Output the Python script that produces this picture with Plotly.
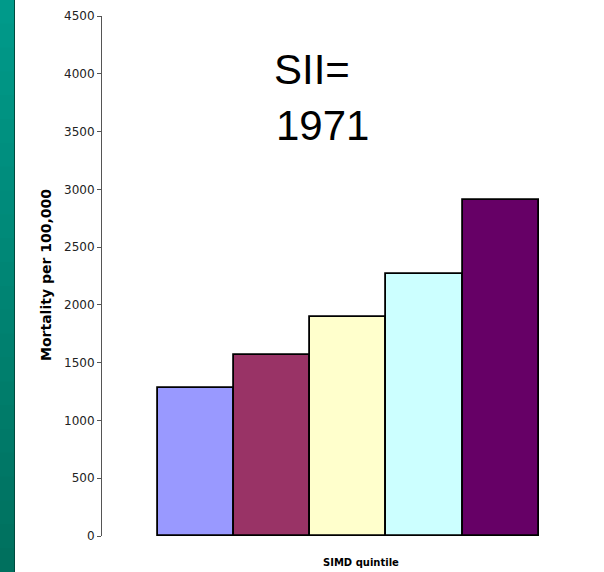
import plotly.graph_objects as go

categories = ["Q1", "Q2", "Q3", "Q4", "Q5"]
mortality = [1280, 1570, 1895, 2265, 2910]
bar_colors = ["#9999FF", "#993366", "#FFFFCC", "#CCFFFF", "#660066"]
y_ticks = [0, 500, 1000, 1500, 2000, 2500, 3000, 3500, 4000, 4500]

W, H = 604, 572
L, R, T, B = 102, 8, 16, 36
pw = W - L - R
ph = H - T - B

def px(x):
    return (x - L) / pw

def py(y):
    return (H - B - y) / ph

fig = go.Figure()
fig.add_trace(go.Bar(
    x=categories, y=mortality,
    marker=dict(color=bar_colors, line=dict(color="#000000", width=1.8)),
    showlegend=False,
))

# teal side strip (gradient approximated by bands)
shapes = []
n = 24
top = (0, 0x9A, 0x8A)
bot = (0, 0x70, 0x5E)
for i in range(n):
    f = i / (n - 1)
    c = tuple(int(round(top[k] + (bot[k] - top[k]) * f)) for k in range(3))
    y0 = H * i / n
    y1 = H * (i + 1) / n + 2
    shapes.append(dict(type="rect", xref="paper", yref="paper",
                       x0=px(0), x1=px(14), y0=py(y1), y1=py(y0),
                       fillcolor="rgb(%d,%d,%d)" % c, line=dict(width=0), layer="below"))
shapes.append(dict(type="rect", xref="paper", yref="paper",
                   x0=px(14), x1=px(15), y0=py(H), y1=py(0),
                   fillcolor="#004A3E", line=dict(width=0), layer="below"))

annotations = [
    dict(text="SII=", xref="paper", yref="paper", x=px(272), y=py(70),
         xanchor="left", yanchor="middle", showarrow=False,
         font=dict(family="Liberation Sans, Arial", size=42, color="#000000")),
    dict(text="1971", xref="paper", yref="paper", x=px(274), y=py(125),
         xanchor="left", yanchor="middle", showarrow=False,
         font=dict(family="Liberation Sans, Arial", size=42, color="#000000")),
    dict(text="<b>Mortality per 100,000</b>", xref="paper", yref="paper",
         x=px(46), y=py(275), textangle=-90, xanchor="center", yanchor="middle",
         showarrow=False, font=dict(family="DejaVu Sans", size=14, color="#000000")),
    dict(text="<b>SIMD quintile</b>", xref="paper", yref="paper",
         x=px(361), y=py(562), xanchor="center", yanchor="middle",
         showarrow=False, font=dict(family="DejaVu Sans", size=10, color="#000000")),
]

fig.update_layout(
    width=W, height=H,
    margin=dict(l=L, r=R, t=T, b=B, pad=0),
    paper_bgcolor="#FFFFFF", plot_bgcolor="#FFFFFF",
    bargap=0,
    shapes=shapes,
    annotations=annotations,
    xaxis=dict(range=[-1.236, 5.252], showticklabels=False, showline=False,
               showgrid=False, zeroline=False, ticks=""),
    yaxis=dict(range=[0, 4500], tickvals=y_ticks, ticktext=[str(v) for v in y_ticks],
               showline=True, linecolor="#555555", linewidth=1,
               ticks="outside", ticklen=4, tickcolor="#555555",
               showgrid=False, zeroline=False,
               tickfont=dict(family="DejaVu Sans", size=12, color="#222222")),
)

fig.write_html("out.html",
               config={"displayModeBar": False},
               post_script="document.body.style.margin='0';document.body.style.overflow='hidden';")
